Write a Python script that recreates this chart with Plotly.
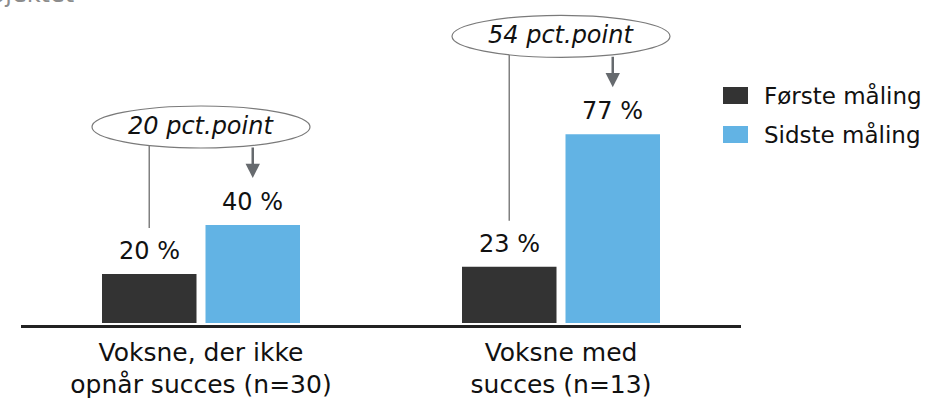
import plotly.graph_objects as go

categories = ["Voksne, der ikke<br>opnår succes (n=30)", "Voksne med<br>succes (n=13)"]
series_names = ["Første måling", "Sidste måling"]
first_values = [20, 23]
last_values = [40, 77]
colors = ["#333333", "#62B3E4"]
title_text = "projektet"

FONT = "DejaVu Sans"
FS = 24
W, H = 927, 400
ML, MR, MT, MB = 21, 186, 0, 75
PW = W - ML - MR
PH = H - MT - MB
PXU = 2.45                    # pixels per percentage point
YMIN = -2 / PXU
YMAX = YMIN + PH / PXU
XPX = PW / 2.0                # pixels per category
BARGAP, GROUPGAP = 0.425, 0.087
OFF = (1 - BARGAP) / 4        # bar centre offset in category units

xs = list(range(len(categories)))

fig = go.Figure()
fig.add_trace(go.Bar(x=xs, y=first_values, name=series_names[0],
                     marker=dict(color=colors[0], line=dict(width=0)), showlegend=False))
fig.add_trace(go.Bar(x=xs, y=last_values, name=series_names[1],
                     marker=dict(color=colors[1], line=dict(width=0)), showlegend=False))

shapes, annos = [], []
px_y = lambda p: p / PXU
px_x = lambda p: p / XPX
for i, (a, b) in enumerate(zip(first_values, last_values)):
    for dx, v in ((-OFF, a), (OFF, b)):
        annos.append(dict(x=i + dx, y=v, xref="x", yref="y", text=f"{v} %", showarrow=False,
                          yanchor="middle", yshift=23, font=dict(family=FONT, size=FS, color="#111")))
    ey = b + px_y(98)
    shapes.append(dict(type="line", xref="x", yref="y", x0=i - OFF, x1=i - OFF,
                       y0=ey, y1=a + px_y(46), line=dict(color="#808080", width=1.5), layer="above"))
    shapes.append(dict(type="circle", xref="x", yref="y", x0=i - px_x(109), x1=i + px_x(109),
                       y0=ey - px_y(21), y1=ey + px_y(21), fillcolor="white",
                       line=dict(color="#7a7a7a", width=1.2), layer="above"))
    annos.append(dict(x=i, y=ey, xref="x", yref="y", text=f"<i>{b - a} pct.point</i>", showarrow=False,
                      yanchor="middle", yshift=1, font=dict(family=FONT, size=FS, color="#111")))
    annos.append(dict(x=i + OFF, y=b + px_y(47), xref="x", yref="y", ax=i + OFF, ay=ey - px_y(19),
                      axref="x", ayref="y", text="", showarrow=True, arrowhead=2, arrowsize=1.15,
                      arrowwidth=2.5, arrowcolor="#666a6e", standoff=0))

def pxx(p):
    return (p - ML) / PW
def pxy(p):
    return 1 - (p - MT) / PH
for k, (nm, c) in enumerate(zip(series_names, colors)):
    top = 87 + 39 * k
    shapes.append(dict(type="rect", xref="paper", yref="paper", x0=pxx(723), x1=pxx(748),
                       y0=pxy(top + 17), y1=pxy(top), fillcolor=c, line=dict(width=0)))
    annos.append(dict(x=pxx(762), y=pxy(top + 8.5), xref="paper", yref="paper", text=nm,
                      showarrow=False, xanchor="left", yanchor="middle",
                      font=dict(family=FONT, size=23, color="#111")))

annos.append(dict(x=pxx(76), y=pxy(10), xref="paper", yref="paper", text=title_text,
                  showarrow=False, xanchor="right", yanchor="bottom",
                  font=dict(family=FONT, size=FS, color="#8c8c8c")))

fig.update_layout(
    width=W, height=H, margin=dict(l=ML, r=MR, t=MT, b=MB),
    paper_bgcolor="white", plot_bgcolor="white",
    barmode="group", bargap=BARGAP, bargroupgap=GROUPGAP,
    shapes=shapes, annotations=annos, showlegend=False,
    xaxis=dict(range=[-0.5, len(categories) - 0.5], tickvals=xs, ticktext=categories,
               showline=True, linecolor="#222", linewidth=2.5, showgrid=False, zeroline=False,
               ticks="", ticklabelstandoff=3,
               tickfont=dict(family=FONT, size=25, color="#111"), fixedrange=True),
    yaxis=dict(range=[YMIN, YMAX], visible=False, fixedrange=True),
    font=dict(family=FONT),
)

fig.write_html("out.html", config={"displayModeBar": False},
               post_script="document.body.style.margin='0';document.body.style.overflow='hidden';")
